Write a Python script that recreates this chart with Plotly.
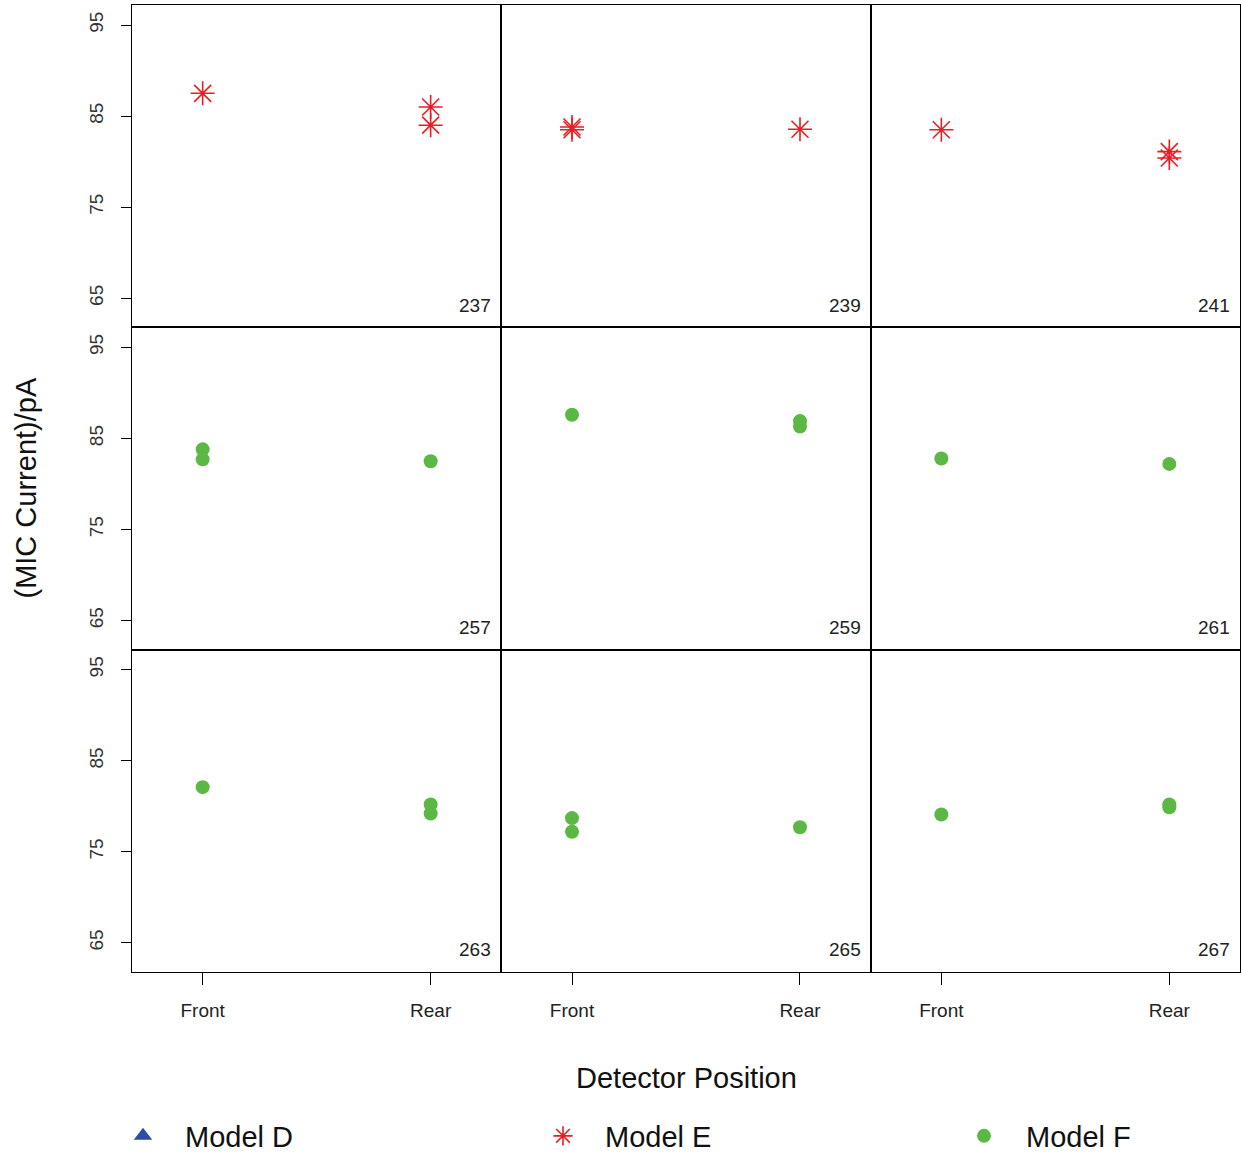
import plotly.graph_objects as go
from plotly.subplots import make_subplots

# ---- data ----
panel_ids = [237, 239, 241, 257, 259, 261, 263, 265, 267]
panel_model = ["Model E", "Model E", "Model E",
               "Model F", "Model F", "Model F",
               "Model F", "Model F", "Model F"]
front_values = [[87.5], [83.8, 83.5], [83.5],
                [83.8, 82.7], [87.6], [82.8],
                [82.1], [78.7, 77.2], [79.1]]
rear_values = [[86.0, 84.0], [83.55], [81.1, 80.4],
               [82.5], [86.9, 86.3], [82.2],
               [80.2, 79.2], [77.7], [80.2, 79.9]]
positions = ["Front", "Rear"]
y_ticks = [65, 75, 85, 95]
models = ["Model D", "Model E", "Model F"]

# ---- styles ----
model_style = {
    "Model D": dict(symbol="triangle-up", color="#2d4fa3", size=16, line=dict(width=0)),
    "Model E": dict(symbol="asterisk-open", color="#ec1c24", size=20,
                    line=dict(width=1.6, color="#ec1c24")),
    "Model F": dict(symbol="circle", color="#5bb844", size=14, line=dict(width=0)),
}
legend_name = {"Model D": "legend", "Model E": "legend2", "Model F": "legend3"}
legend_px = {"Model D": 143, "Model E": 563, "Model F": 984}  # symbol centre, px
FONT = "Liberation Sans, Arial, sans-serif"
L, R, T, B = 132, 1, 5, 190
W, H = 1241, 1162
PW, PH = W - L - R, H - T - B

fig = make_subplots(rows=3, cols=3, horizontal_spacing=0, vertical_spacing=0)

shown = set()
fig.add_trace(go.Scatter(x=[None], y=[None], mode="markers", name="Model D",
                         marker=model_style["Model D"], legend="legend",
                         showlegend=True), row=1, col=1)
shown.add("Model D")

for i, pid in enumerate(panel_ids):
    r, c = i // 3 + 1, i % 3 + 1
    m = panel_model[i]
    xs = [1] * len(front_values[i]) + [2] * len(rear_values[i])
    ys = front_values[i] + rear_values[i]
    fig.add_trace(go.Scatter(x=xs, y=ys, mode="markers", name=m,
                             marker=model_style[m], legend=legend_name[m],
                             showlegend=(m not in shown)), row=r, col=c)
    shown.add(m)
    fig.add_annotation(text=str(pid), xref="x domain" if i == 0 else f"x{i+1} domain",
                       yref="y domain" if i == 0 else f"y{i+1} domain",
                       x=0.978, y=0.03, xanchor="right", yanchor="bottom",
                       showarrow=False, font=dict(family=FONT, size=19, color="#222"))

for i in range(9):
    r, c = i // 3 + 1, i % 3 + 1
    fig.update_xaxes(row=r, col=c, range=[0.69, 2.31], tickvals=[1, 2],
                     ticktext=positions, showgrid=False, zeroline=False,
                     showline=True, mirror=True, linecolor="black", linewidth=1.2,
                     ticks="outside" if r == 3 else "", ticklen=12, tickcolor="black",
                     showticklabels=(r == 3), ticklabelstandoff=9,
                     tickfont=dict(family=FONT, size=19, color="#222"))
    fig.update_yaxes(row=r, col=c, range=[61.8, 97.2], tickvals=y_ticks,
                     showgrid=False, zeroline=False,
                     showline=True, mirror=True, linecolor="black", linewidth=1.2,
                     ticks="outside" if c == 1 else "", ticklen=10, tickcolor="black",
                     showticklabels=(c == 1), tickangle=-90, ticklabelstandoff=10,
                     tickfont=dict(family=FONT, size=19, color="#333"))

fig.add_annotation(text="(MIC Current)/pA", xref="paper", yref="paper",
                   x=(25 - L) / PW, y=0.5, xanchor="center", yanchor="middle",
                   textangle=-90, showarrow=False,
                   font=dict(family=FONT, size=29, color="#111"))
fig.add_annotation(text="Detector Position", xref="paper", yref="paper",
                   x=0.5, y=(972 - 1078) / PH, xanchor="center", yanchor="middle",
                   showarrow=False, font=dict(family=FONT, size=29, color="#111"))

ITEMW = 74
legends = {}
for m in models:
    legends[legend_name[m]] = dict(
        orientation="h", x=(legend_px[m] - 5 - ITEMW / 2 - L) / PW,
        y=(972 - 1136) / PH, xanchor="left", yanchor="middle",
        itemwidth=ITEMW, font=dict(family=FONT, size=29, color="#111"),
        bgcolor="rgba(0,0,0,0)", itemsizing="trace")

fig.update_layout(
    width=W, height=H,
    margin=dict(l=L, r=R, t=T, b=B),
    plot_bgcolor="white", paper_bgcolor="white",
    **legends,
)

fig.write_html("out.html", config={"displayModeBar": False},
               post_script="document.body.style.margin='0';")
